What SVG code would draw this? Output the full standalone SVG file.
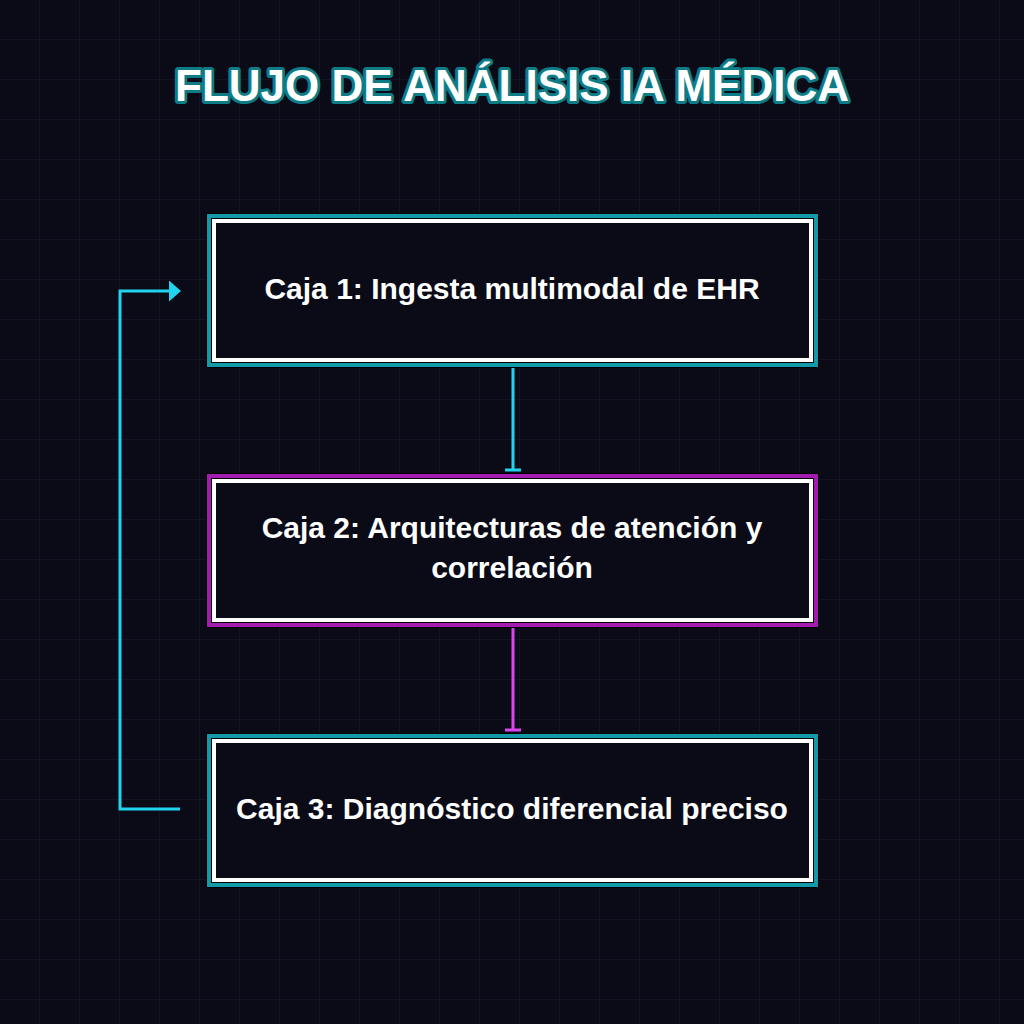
<svg xmlns="http://www.w3.org/2000/svg" width="1024" height="1024" viewBox="0 0 1024 1024">
<defs>
<pattern id="grid" width="40" height="40" patternUnits="userSpaceOnUse"><path d="M40 0V40M0 40H40" fill="none" stroke="#1a1a2e" stroke-width="1"/></pattern>
<marker id="ah" markerWidth="4" markerHeight="7" refX="3" refY="3.5" orient="auto" markerUnits="strokeWidth"><path d="M0 0L4 3.5L0 7Z" fill="#22d3ee"/></marker>
</defs>
<style>
.t{font-family:"Liberation Sans",Arial,sans-serif;font-weight:bold;fill:#fff;font-size:30px;text-anchor:middle}
.o{fill:#000}
.w{fill:#0b0b18;stroke:#fff;stroke-width:4}
</style>
<rect width="1024" height="1024" fill="#0b0b18"/>
<rect width="1024" height="1024" fill="url(#grid)"/>
<text x="512" y="101" font-family="Liberation Sans,Arial,sans-serif" font-weight="bold" font-size="44" text-anchor="middle" fill="#fff" stroke="#0e7c86" stroke-width="6" stroke-linejoin="round" paint-order="stroke">FLUJO DE ANÁLISIS IA MÉDICA</text>
<g id="connectors" fill="none" stroke-width="3">
<path d="M513 360V470M505 470H521" stroke="#22d3ee"/>
<path d="M513 620V730M505 730H521" stroke="#d946ef"/>
<path d="M180 809H120V291H178" stroke="#22d3ee" marker-end="url(#ah)"/>
</g>
<g id="box1"><rect class="o" x="206" y="213" width="613" height="155"/><rect x="209" y="216" width="607" height="149" fill="none" stroke="#139aa8" stroke-width="4"/><rect class="w" x="214" y="221" width="597" height="139"/><text class="t" x="512" y="299">Caja 1: Ingesta multimodal de EHR</text></g>
<g id="box2"><rect class="o" x="206" y="473" width="613" height="155"/><rect x="209" y="476" width="607" height="149" fill="none" stroke="#a21caf" stroke-width="4"/><rect class="w" x="214" y="481" width="597" height="139"/><text class="t" x="512" y="538">Caja 2: Arquitecturas de atención y</text><text class="t" x="512" y="578">correlación</text></g>
<g id="box3"><rect class="o" x="206" y="733" width="613" height="155"/><rect x="209" y="736" width="607" height="149" fill="none" stroke="#139aa8" stroke-width="4"/><rect class="w" x="214" y="741" width="597" height="139"/><text class="t" x="512" y="819">Caja 3: Diagnóstico diferencial preciso</text></g>
</svg>
